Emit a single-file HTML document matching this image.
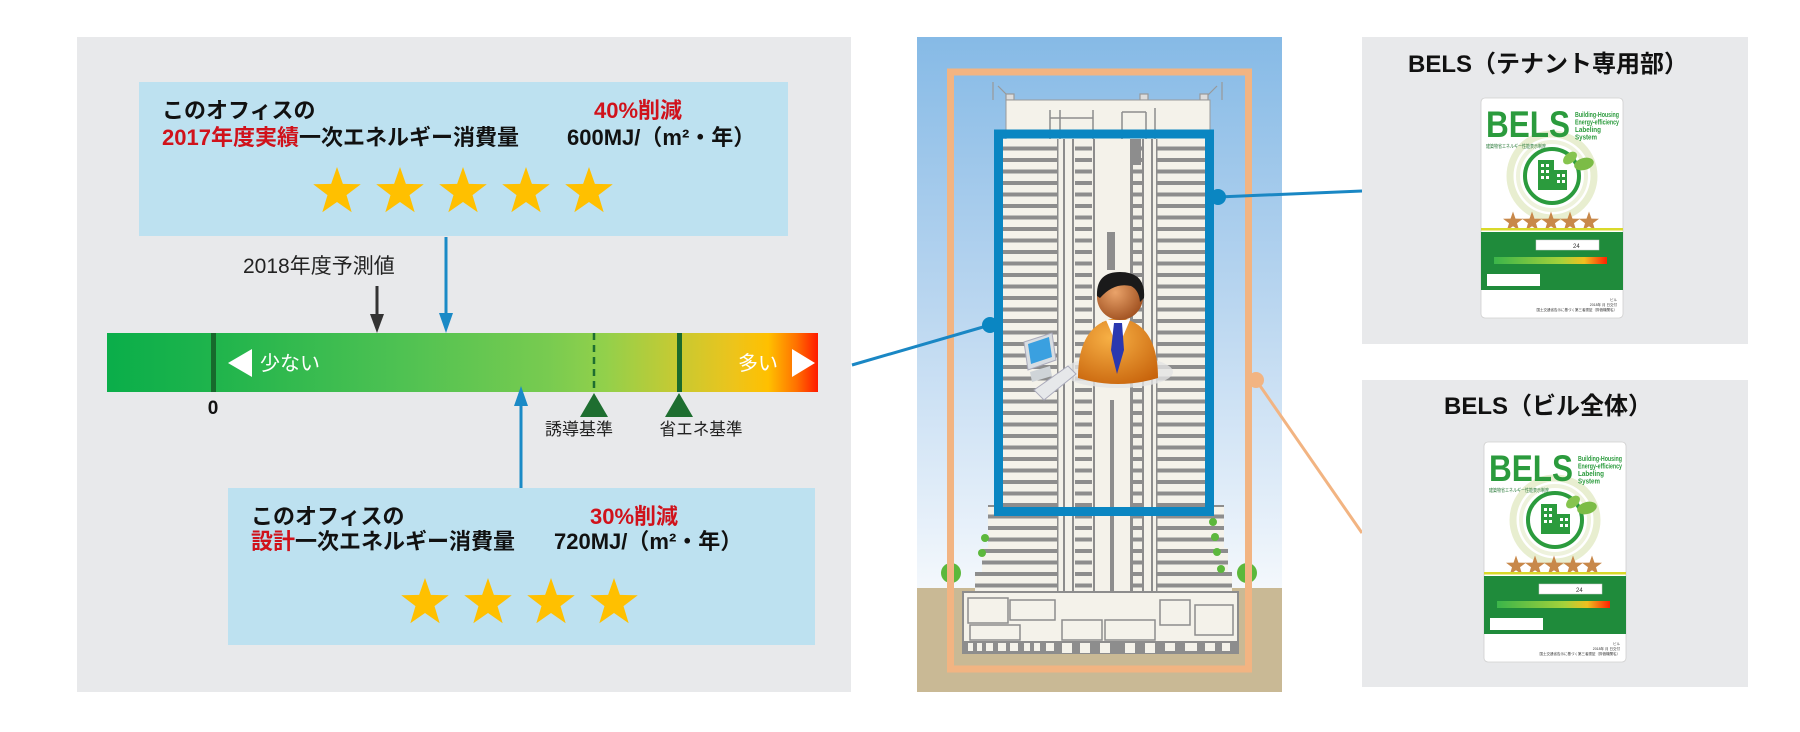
<!DOCTYPE html>
<html><head><meta charset="utf-8">
<style>
html,body{margin:0;padding:0;background:#fff;}
svg{display:block;}
text{font-family:"Liberation Sans","Noto Sans CJK JP",sans-serif;}
</style></head><body>
<svg width="1800" height="732" viewBox="0 0 1800 732" xmlns="http://www.w3.org/2000/svg">
<defs>
 <linearGradient id="bar" x1="107" y1="0" x2="818" y2="0" gradientUnits="userSpaceOnUse">
  <stop offset="0" stop-color="#0aae4a"/>
  <stop offset="0.15" stop-color="#1fb44c"/>
  <stop offset="0.4" stop-color="#4cc152"/>
  <stop offset="0.62" stop-color="#78cb50"/>
  <stop offset="0.7" stop-color="#92d04b"/>
  <stop offset="0.8" stop-color="#c6ca33"/>
  <stop offset="0.88" stop-color="#ecc41c"/>
  <stop offset="0.93" stop-color="#ffc000"/>
  <stop offset="0.97" stop-color="#ff7000"/>
  <stop offset="1" stop-color="#ff1a00"/>
 </linearGradient>
 <linearGradient id="sky" x1="0" y1="37" x2="0" y2="590" gradientUnits="userSpaceOnUse">
  <stop offset="0" stop-color="#86bae6"/>
  <stop offset="0.45" stop-color="#b6d4ef"/>
  <stop offset="0.85" stop-color="#e3eef9"/>
  <stop offset="1" stop-color="#f4f8fc"/>
 </linearGradient>
 <linearGradient id="cbar" x1="0" y1="0" x2="1" y2="0">
  <stop offset="0" stop-color="#3bb54a"/>
  <stop offset="0.6" stop-color="#a6d23a"/>
  <stop offset="0.8" stop-color="#f0c020"/>
  <stop offset="1" stop-color="#ff2000"/>
 </linearGradient>
 <radialGradient id="skin" cx="0.4" cy="0.4" r="0.7">
  <stop offset="0" stop-color="#eaa36a"/>
  <stop offset="1" stop-color="#9a4a1a"/>
 </radialGradient>
 <radialGradient id="suit" cx="0.4" cy="0.3" r="0.8">
  <stop offset="0" stop-color="#f7b045"/>
  <stop offset="1" stop-color="#c8640c"/>
 </radialGradient>
 <pattern id="fl" width="20" height="11.5" patternUnits="userSpaceOnUse" x="0" y="139">
  <rect width="20" height="11.5" fill="#f4f2ea"/>
  <rect y="7.5" width="20" height="4" fill="#8d8d8d"/>
 </pattern>
 <path id="star" d="M0,-25 L5.88,-8.09 L23.78,-7.73 L9.51,3.09 L14.69,20.23 L0,10 L-14.69,20.23 L-9.51,3.09 L-23.78,-7.73 L-5.88,-8.09 Z"/>
</defs>

<!-- LEFT PANEL -->
<rect x="77" y="37" width="774" height="655" fill="#e8e9eb"/>

<!-- top blue box -->
<rect x="139" y="82" width="649" height="154" fill="#bde1f0"/>
<text x="162" y="118" font-size="22" font-weight="bold" fill="#111">このオフィスの</text>
<text x="162" y="145" font-size="22" font-weight="bold" fill="#111"><tspan fill="#d0121b">2017年度実績</tspan>一次エネルギー消費量</text>
<text x="594" y="118" font-size="22" font-weight="bold" fill="#d0121b">40%削減</text>
<text x="567" y="145" font-size="22" font-weight="bold" fill="#111">600MJ/（m²・年）</text>
<g fill="#ffc000">
 <use href="#star" x="337" y="192"/>
 <use href="#star" x="400" y="192"/>
 <use href="#star" x="463" y="192"/>
 <use href="#star" x="526" y="192"/>
 <use href="#star" x="589" y="192"/>
</g>

<!-- 2018 label -->
<text x="243" y="273" font-size="21" fill="#222">2018年度予測値</text>

<!-- arrows down -->
<line x1="377" y1="286" x2="377" y2="318" stroke="#333" stroke-width="3"/>
<polygon points="370,314 384,314 377,333" fill="#333"/>
<line x1="446" y1="237" x2="446" y2="318" stroke="#1a8ac6" stroke-width="3"/>
<polygon points="439,313 453,313 446,333" fill="#1a8ac6"/>

<!-- bar -->
<rect x="107" y="333" width="711" height="59" fill="url(#bar)"/>
<rect x="211" y="333" width="5" height="59" fill="#17692c"/>
<line x1="594" y1="333" x2="594" y2="392" stroke="#1e6e30" stroke-width="2.5" stroke-dasharray="7,5"/>
<rect x="677" y="333" width="5" height="59" fill="#1b6a2c"/>
<polygon points="228,363 252,349 252,377" fill="#fff"/>
<text x="260" y="370" font-size="20" fill="#fff">少ない</text>
<text x="738" y="370" font-size="20" fill="#fff">多い</text>
<polygon points="815,363 792,349 792,377" fill="#fff"/>

<text x="213" y="414" font-size="19" font-weight="bold" fill="#111" text-anchor="middle">0</text>
<polygon points="580,417 608,417 594,393" fill="#1e6e30"/>
<polygon points="665,417 693,417 679,393" fill="#1e6e30"/>
<text x="579" y="435" font-size="17" fill="#222" text-anchor="middle" textLength="68" lengthAdjust="spacingAndGlyphs">誘導基準</text>
<text x="701" y="435" font-size="17" fill="#222" text-anchor="middle" textLength="83" lengthAdjust="spacingAndGlyphs">省エネ基準</text>

<!-- arrow up -->
<line x1="521" y1="400" x2="521" y2="488" stroke="#1a8ac6" stroke-width="3"/>
<polygon points="514,406 528,406 521,386" fill="#1a8ac6"/>

<!-- lower blue box -->
<rect x="228" y="488" width="587" height="157" fill="#bde1f0"/>
<text x="251" y="524" font-size="22" font-weight="bold" fill="#111">このオフィスの</text>
<text x="251" y="549" font-size="22" font-weight="bold" fill="#111"><tspan fill="#d0121b">設計</tspan>一次エネルギー消費量</text>
<text x="590" y="524" font-size="22" font-weight="bold" fill="#d0121b">30%削減</text>
<text x="554" y="549" font-size="22" font-weight="bold" fill="#111">720MJ/（m²・年）</text>
<g fill="#ffc000">
 <use href="#star" x="425" y="603"/>
 <use href="#star" x="488" y="603"/>
 <use href="#star" x="551" y="603"/>
 <use href="#star" x="614" y="603"/>
</g>

<!-- BUILDING PANEL -->
<rect x="917" y="37" width="365" height="555" fill="url(#sky)"/>
<rect x="917" y="588" width="365" height="104" fill="#c9b995"/>

<!-- roof -->
<g stroke="#999" stroke-width="1.2" fill="none">
 <line x1="993" y1="82" x2="993" y2="100"/>
 <line x1="998" y1="86" x2="1010" y2="98"/>
 <line x1="1222" y1="82" x2="1222" y2="100"/>
 <line x1="1217" y1="86" x2="1205" y2="98"/>
 <rect x="1006" y="94" width="8" height="6" fill="#ddd"/>
 <rect x="1140" y="94" width="8" height="6" fill="#ddd"/>
 <rect x="1200" y="94" width="8" height="6" fill="#ddd"/>
</g>
<rect x="1006" y="100" width="204" height="42" fill="#f4f2ea" stroke="#9a9a9a" stroke-width="1"/>
<g stroke="#8d8d8d" stroke-width="1.5">
 <line x1="1050" y1="110" x2="1050" y2="142"/>
 <line x1="1060" y1="110" x2="1060" y2="142"/>
 <line x1="1050" y1="118" x2="1093" y2="118"/>
 <line x1="1093" y1="110" x2="1093" y2="142"/>
 <line x1="1122" y1="112" x2="1122" y2="142"/>
 <line x1="1146" y1="112" x2="1146" y2="142"/>
 <line x1="1155" y1="108" x2="1155" y2="142"/>
 <line x1="1122" y1="112" x2="1146" y2="112"/>
</g>

<!-- lower stepped floors -->
<rect x="988" y="505" width="236" height="45" fill="url(#fl)"/>
<rect x="982" y="548" width="246" height="24" fill="url(#fl)"/>
<rect x="975" y="572" width="257" height="22" fill="url(#fl)"/>
<!-- tower wings -->
<rect x="1003" y="139" width="54" height="372" fill="url(#fl)"/>
<rect x="1157" y="139" width="52" height="372" fill="url(#fl)"/>
<!-- core -->
<rect x="1057" y="139" width="100" height="480" fill="#f4f2ea"/>
<rect x="1075" y="139" width="17" height="480" fill="url(#fl)"/>
<rect x="1132" y="139" width="10" height="480" fill="url(#fl)"/>
<g fill="#8d8d8d">
 <rect x="1057" y="139" width="1.5" height="480"/>
 <rect x="1063" y="139" width="2" height="480"/>
 <rect x="1072" y="139" width="2" height="480"/>
 <rect x="1093" y="139" width="2" height="480"/>
 <rect x="1130" y="139" width="3" height="480"/>
 <rect x="1142" y="139" width="2" height="480"/>
 <rect x="1151" y="139" width="2" height="480"/>
 <rect x="1156" y="139" width="1.5" height="480"/>
 <rect x="1131" y="139" width="10" height="26"/>
 <rect x="1107" y="232" width="8" height="38"/>
 <rect x="1102" y="322" width="4" height="60"/>
 <rect x="1110" y="400" width="4" height="200"/>
</g>
<!-- podium -->
<rect x="963" y="592" width="275" height="61" fill="#f4f2ea" stroke="#8d8d8d" stroke-width="2"/>
<g fill="none" stroke="#8d8d8d" stroke-width="1.5">
 <rect x="968" y="598" width="40" height="25"/>
 <rect x="1010" y="600" width="45" height="20"/>
 <rect x="1062" y="620" width="40" height="20"/>
 <rect x="1105" y="620" width="50" height="20"/>
 <rect x="1160" y="600" width="30" height="25"/>
 <rect x="1195" y="605" width="38" height="30"/>
 <rect x="970" y="625" width="50" height="15"/>
</g>
<rect x="964" y="641" width="273" height="12" fill="#8d8d8d"/>
<g fill="#f4f2ea">
 <rect x="968" y="643" width="5" height="8"/><rect x="977" y="643" width="5" height="8"/>
 <rect x="986" y="643" width="7" height="8"/><rect x="998" y="643" width="8" height="8"/>
 <rect x="1010" y="643" width="8" height="8"/><rect x="1024" y="643" width="6" height="8"/>
 <rect x="1034" y="643" width="6" height="8"/><rect x="1046" y="643" width="8" height="8"/>
 <rect x="1062" y="643" width="10" height="10"/><rect x="1080" y="643" width="10" height="10"/>
 <rect x="1100" y="643" width="10" height="10"/><rect x="1125" y="643" width="10" height="10"/>
 <rect x="1145" y="643" width="10" height="10"/><rect x="1165" y="643" width="10" height="8"/>
 <rect x="1185" y="643" width="12" height="8"/><rect x="1205" y="643" width="10" height="8"/>
 <rect x="1222" y="643" width="8" height="8"/>
</g>
<!-- trees -->
<g fill="#5cb83c">
 <circle cx="951" cy="573" r="10"/>
 <circle cx="1247" cy="573" r="10"/>
 <circle cx="985" cy="538" r="4"/><circle cx="982" cy="553" r="4"/>
 <circle cx="1213" cy="522" r="4"/><circle cx="1215" cy="537" r="4"/>
 <circle cx="1217" cy="552" r="4"/><circle cx="1221" cy="569" r="4"/>
</g>

<!-- orange rect -->
<rect x="950.5" y="72" width="298" height="597" fill="none" stroke="#f2b482" stroke-width="7"/>

<!-- person -->
<ellipse cx="1118" cy="372" rx="55" ry="16" fill="#e4e4e4" opacity="0.8"/>
<path d="M1078,378 C1078,338 1094,320 1118,318 C1142,320 1158,338 1158,378 Q1118,390 1078,378 Z" fill="url(#suit)"/>
<polygon points="1106,320 1130,320 1118,348" fill="#fff"/>
<polygon points="1114,323 1122,323 1124,350 1117,374 1111,350" fill="#2a38b0"/>
<circle cx="1120" cy="297" r="23" fill="url(#skin)"/>
<path d="M1097,296 Q1096,272 1120,272 Q1146,272 1144,298 L1140,302 Q1139,290 1131,286 Q1114,282 1100,298 Z" fill="#1a1a1a"/>
<!-- computer -->
<polygon points="1024,342 1052,333 1056,360 1028,370" fill="#d8dde2" stroke="#aab" stroke-width="1"/>
<polygon points="1028,344 1049,337 1052,357 1031,364" fill="#3aa0e0"/>
<polygon points="1030,372 1050,366 1052,376 1032,382" fill="#cfd4d8"/>
<polygon points="1034,390 1068,366 1076,374 1044,400" fill="#e6e8ea" stroke="#aab" stroke-width="1"/>

<!-- blue rect -->
<rect x="998.5" y="134" width="211" height="377.5" fill="none" stroke="#0a86c2" stroke-width="9"/>

<!-- connectors -->
<line x1="852" y1="365" x2="990" y2="325" stroke="#1a87c4" stroke-width="3"/>
<circle cx="990" cy="325" r="8" fill="#0a86c2"/>
<line x1="1218" y1="197" x2="1362" y2="191" stroke="#1a87c4" stroke-width="3"/>
<circle cx="1218" cy="197" r="8" fill="#0a86c2"/>
<line x1="1256" y1="380" x2="1362" y2="533" stroke="#f2b482" stroke-width="3"/>
<circle cx="1256" cy="380" r="8" fill="#f2b482"/>

<!-- RIGHT PANELS -->
<rect x="1362" y="37" width="386" height="307" fill="#e8e9eb"/>
<text x="1548" y="72" font-size="24" font-weight="bold" fill="#111" text-anchor="middle">BELS（テナント専用部）</text>
<rect x="1362" y="380" width="386" height="307" fill="#e8e9eb"/>
<text x="1548" y="414" font-size="24" font-weight="bold" fill="#111" text-anchor="middle">BELS（ビル全体）</text>

<!-- card 1 -->
<g transform="translate(1481,98)">
 <rect x="0" y="0" width="142" height="220" rx="4" fill="#fff" stroke="#cfcfcf" stroke-width="0.8"/>
 <circle cx="71" cy="78" r="42" fill="none" stroke="#e8eed0" stroke-width="7"/>
 <circle cx="71" cy="78" r="34" fill="none" stroke="#eef2dc" stroke-width="4"/>
 <text x="5" y="39" font-size="37" font-weight="bold" fill="#2b9b3d" textLength="84" lengthAdjust="spacingAndGlyphs">BELS</text>
 <g font-size="7" font-weight="bold" fill="#2b9b3d">
  <text x="94" y="19" textLength="44" lengthAdjust="spacingAndGlyphs">Building-Housing</text>
  <text x="94" y="26.5" textLength="44" lengthAdjust="spacingAndGlyphs">Energy-efficiency</text>
  <text x="94" y="34" textLength="26" lengthAdjust="spacingAndGlyphs">Labeling</text>
  <text x="94" y="41.5" textLength="22" lengthAdjust="spacingAndGlyphs">System</text>
 </g>
 <text x="5" y="50" font-size="5" fill="#2b7b3b" textLength="60" lengthAdjust="spacingAndGlyphs">建築物省エネルギー性能表示制度</text>
 <circle cx="71" cy="78" r="27" fill="#fff" stroke="#2b9b3d" stroke-width="4"/>
 <rect x="57" y="62" width="16" height="30" fill="#2b9b3d"/>
 <rect x="73" y="72" width="13" height="20" fill="#2b9b3d"/>
 <g fill="#fff">
  <rect x="60" y="66" width="3" height="3"/><rect x="65" y="66" width="3" height="3"/>
  <rect x="60" y="72" width="3" height="3"/><rect x="65" y="72" width="3" height="3"/>
  <rect x="60" y="78" width="3" height="3"/><rect x="65" y="78" width="3" height="3"/>
  <rect x="76" y="76" width="3" height="3"/><rect x="81" y="76" width="3" height="3"/>
  <rect x="76" y="82" width="3" height="3"/><rect x="81" y="82" width="3" height="3"/>
 </g>
 <ellipse cx="89" cy="60" rx="8" ry="5" transform="rotate(-40 89 60)" fill="#86c44e"/>
 <ellipse cx="103" cy="66" rx="10" ry="6" transform="rotate(-15 103 66)" fill="#7cbc46"/>
 <g fill="#c8884a" transform="translate(0,124)">
  <use href="#star" x="0" y="0" transform="translate(32,0) scale(0.42)"/>
  <use href="#star" x="0" y="0" transform="translate(51,0) scale(0.42)"/>
  <use href="#star" x="0" y="0" transform="translate(70,0) scale(0.42)"/>
  <use href="#star" x="0" y="0" transform="translate(89,0) scale(0.42)"/>
  <use href="#star" x="0" y="0" transform="translate(108,0) scale(0.42)"/>
 </g>
 <rect x="0" y="130" width="142" height="2.5" fill="#d9d92a"/>
 <rect x="0" y="134" width="142" height="58" fill="#1f8b3b"/>
 <rect x="55" y="142" width="63" height="10" fill="#fff" stroke="#ccc" stroke-width="0.5"/>
 <text x="92" y="150" font-size="6" fill="#333">24</text>
 <rect x="13" y="159" width="113" height="7" fill="url(#cbar)"/>
 <rect x="6" y="176" width="53" height="12" fill="#fff"/>
 <g font-size="3.5" fill="#333" text-anchor="end">
  <text x="136" y="203">ビル</text>
  <text x="136" y="208">2018年 月 日交付</text>
  <text x="136" y="213">国土交通省告示に基づく第三者認証（評価機関名）</text>
 </g>
</g>

<!-- card 2 -->
<g transform="translate(1484,442)">
 <rect x="0" y="0" width="142" height="220" rx="4" fill="#fff" stroke="#cfcfcf" stroke-width="0.8"/>
 <circle cx="71" cy="78" r="42" fill="none" stroke="#e8eed0" stroke-width="7"/>
 <circle cx="71" cy="78" r="34" fill="none" stroke="#eef2dc" stroke-width="4"/>
 <text x="5" y="39" font-size="37" font-weight="bold" fill="#2b9b3d" textLength="84" lengthAdjust="spacingAndGlyphs">BELS</text>
 <g font-size="7" font-weight="bold" fill="#2b9b3d">
  <text x="94" y="19" textLength="44" lengthAdjust="spacingAndGlyphs">Building-Housing</text>
  <text x="94" y="26.5" textLength="44" lengthAdjust="spacingAndGlyphs">Energy-efficiency</text>
  <text x="94" y="34" textLength="26" lengthAdjust="spacingAndGlyphs">Labeling</text>
  <text x="94" y="41.5" textLength="22" lengthAdjust="spacingAndGlyphs">System</text>
 </g>
 <text x="5" y="50" font-size="5" fill="#2b7b3b" textLength="60" lengthAdjust="spacingAndGlyphs">建築物省エネルギー性能表示制度</text>
 <circle cx="71" cy="78" r="27" fill="#fff" stroke="#2b9b3d" stroke-width="4"/>
 <rect x="57" y="62" width="16" height="30" fill="#2b9b3d"/>
 <rect x="73" y="72" width="13" height="20" fill="#2b9b3d"/>
 <g fill="#fff">
  <rect x="60" y="66" width="3" height="3"/><rect x="65" y="66" width="3" height="3"/>
  <rect x="60" y="72" width="3" height="3"/><rect x="65" y="72" width="3" height="3"/>
  <rect x="60" y="78" width="3" height="3"/><rect x="65" y="78" width="3" height="3"/>
  <rect x="76" y="76" width="3" height="3"/><rect x="81" y="76" width="3" height="3"/>
  <rect x="76" y="82" width="3" height="3"/><rect x="81" y="82" width="3" height="3"/>
 </g>
 <ellipse cx="89" cy="60" rx="8" ry="5" transform="rotate(-40 89 60)" fill="#86c44e"/>
 <ellipse cx="103" cy="66" rx="10" ry="6" transform="rotate(-15 103 66)" fill="#7cbc46"/>
 <g fill="#c8884a" transform="translate(0,124)">
  <use href="#star" x="0" y="0" transform="translate(32,0) scale(0.42)"/>
  <use href="#star" x="0" y="0" transform="translate(51,0) scale(0.42)"/>
  <use href="#star" x="0" y="0" transform="translate(70,0) scale(0.42)"/>
  <use href="#star" x="0" y="0" transform="translate(89,0) scale(0.42)"/>
  <use href="#star" x="0" y="0" transform="translate(108,0) scale(0.42)"/>
 </g>
 <rect x="0" y="130" width="142" height="2.5" fill="#d9d92a"/>
 <rect x="0" y="134" width="142" height="58" fill="#1f8b3b"/>
 <rect x="55" y="142" width="63" height="10" fill="#fff" stroke="#ccc" stroke-width="0.5"/>
 <text x="92" y="150" font-size="6" fill="#333">24</text>
 <rect x="13" y="159" width="113" height="7" fill="url(#cbar)"/>
 <rect x="6" y="176" width="53" height="12" fill="#fff"/>
 <g font-size="3.5" fill="#333" text-anchor="end">
  <text x="136" y="203">ビル</text>
  <text x="136" y="208">2018年 月 日交付</text>
  <text x="136" y="213">国土交通省告示に基づく第三者認証（評価機関名）</text>
 </g>
</g>
</svg>
</body></html>
